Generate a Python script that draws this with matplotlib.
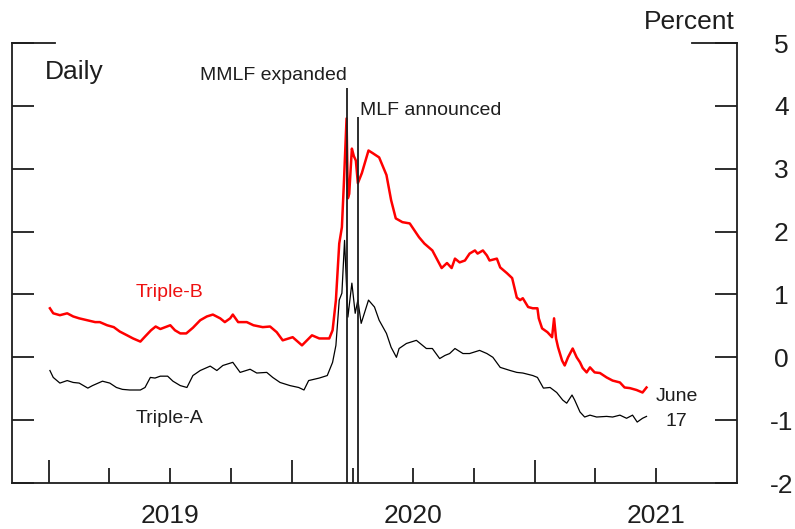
import matplotlib
matplotlib.use('Agg')
import matplotlib.pyplot as plt
import pandas as pd

plt.rcParams['font.family'] = ['Liberation Sans', 'DejaVu Sans']

# spreads, percent
triple_b_dates = [
    '2019-01-02', '2019-01-07', '2019-01-17', '2019-01-28', '2019-02-06', '2019-02-15',
    '2019-02-27', '2019-03-11', '2019-03-18', '2019-03-29', '2019-04-08', '2019-04-17',
    '2019-04-28', '2019-05-07', '2019-05-18', '2019-05-25', '2019-06-03', '2019-06-10',
    '2019-06-17', '2019-06-27', '2019-07-02', '2019-07-09', '2019-07-17', '2019-07-26',
    '2019-08-05', '2019-08-16', '2019-08-26', '2019-09-04', '2019-09-15', '2019-09-22',
    '2019-09-30', '2019-10-04', '2019-10-12', '2019-10-25', '2019-11-04', '2019-11-18',
    '2019-11-29', '2019-12-09', '2019-12-18', '2020-01-02', '2020-01-16', '2020-01-31',
    '2020-02-11', '2020-02-26', '2020-03-02', '2020-03-07', '2020-03-12', '2020-03-16',
    '2020-03-19', '2020-03-23', '2020-03-25', '2020-03-27', '2020-03-31', '2020-04-03',
    '2020-04-06', '2020-04-09', '2020-04-15', '2020-04-25', '2020-05-01', '2020-05-11',
    '2020-05-22', '2020-05-29', '2020-06-05', '2020-06-15', '2020-06-26', '2020-07-10',
    '2020-07-18', '2020-07-30', '2020-08-07', '2020-08-13', '2020-08-21', '2020-08-28',
    '2020-09-02', '2020-09-09', '2020-09-17', '2020-09-24', '2020-10-02', '2020-10-06',
    '2020-10-14', '2020-10-20', '2020-10-24', '2020-11-04', '2020-11-09', '2020-11-19',
    '2020-11-27', '2020-12-04', '2020-12-09', '2020-12-13', '2020-12-21', '2020-12-28',
    '2021-01-04', '2021-01-06', '2021-01-11', '2021-01-19', '2021-01-26', '2021-01-29',
    '2021-02-01', '2021-02-04', '2021-02-10', '2021-02-14', '2021-02-19', '2021-02-26',
    '2021-03-04', '2021-03-09', '2021-03-13', '2021-03-19', '2021-03-24', '2021-03-31',
    '2021-04-08', '2021-04-18', '2021-04-27', '2021-05-08', '2021-05-15', '2021-05-23',
    '2021-06-02', '2021-06-11', '2021-06-17',
]
triple_b_values = [
    0.78, 0.70, 0.67, 0.70, 0.65, 0.62,
    0.59, 0.56, 0.56, 0.51, 0.48, 0.41,
    0.35, 0.30, 0.25, 0.33, 0.43, 0.49,
    0.45, 0.49, 0.51, 0.43, 0.38, 0.38,
    0.47, 0.59, 0.65, 0.68, 0.62, 0.56,
    0.62, 0.68, 0.56, 0.56, 0.51, 0.48,
    0.49, 0.40, 0.27, 0.32, 0.19, 0.35,
    0.30, 0.30, 0.43, 0.91, 1.81, 2.07,
    2.77, 3.80, 2.53, 2.60, 3.32, 3.20,
    3.13, 2.77, 2.93, 3.29, 3.25, 3.18,
    2.90, 2.50, 2.21, 2.15, 2.13, 1.91,
    1.81, 1.70, 1.54, 1.42, 1.50, 1.42,
    1.57, 1.51, 1.54, 1.65, 1.70, 1.65,
    1.70, 1.62, 1.54, 1.57, 1.43, 1.34,
    1.26, 0.95, 0.91, 0.94, 0.80, 0.78,
    0.78, 0.62, 0.46, 0.40, 0.32, 0.62,
    0.30, 0.16, -0.05, -0.13, 0.00, 0.14,
    0.00, -0.08, -0.17, -0.24, -0.16, -0.24,
    -0.25, -0.32, -0.37, -0.40, -0.48, -0.49,
    -0.52, -0.56, -0.48,
]

triple_a_dates = [
    '2019-01-02', '2019-01-07', '2019-01-17', '2019-01-28', '2019-02-06', '2019-02-15',
    '2019-02-28', '2019-03-07', '2019-03-22', '2019-04-02', '2019-04-12', '2019-04-21',
    '2019-05-02', '2019-05-18', '2019-05-25', '2019-06-02', '2019-06-09', '2019-06-17',
    '2019-06-28', '2019-07-06', '2019-07-17', '2019-07-27', '2019-08-05', '2019-08-16',
    '2019-08-31', '2019-09-10', '2019-09-19', '2019-10-04', '2019-10-15', '2019-10-30',
    '2019-11-09', '2019-11-24', '2019-12-03', '2019-12-14', '2019-12-29', '2020-01-11',
    '2020-01-19', '2020-01-26', '2020-02-11', '2020-02-23', '2020-03-02', '2020-03-07',
    '2020-03-12', '2020-03-16', '2020-03-20', '2020-03-25', '2020-03-31', '2020-04-05',
    '2020-04-09', '2020-04-14', '2020-04-25', '2020-05-04', '2020-05-11', '2020-05-22',
    '2020-05-29', '2020-06-06', '2020-06-10', '2020-06-21', '2020-07-06', '2020-07-21',
    '2020-07-30', '2020-08-10', '2020-08-18', '2020-08-25', '2020-09-02', '2020-09-14',
    '2020-09-24', '2020-10-09', '2020-10-20', '2020-10-29', '2020-11-09', '2020-11-24',
    '2020-12-04', '2020-12-13', '2020-12-28', '2021-01-04', '2021-01-13', '2021-01-23',
    '2021-02-02', '2021-02-11', '2021-02-17', '2021-02-25', '2021-03-01', '2021-03-09',
    '2021-03-16', '2021-03-24', '2021-04-03', '2021-04-18', '2021-04-27', '2021-05-08',
    '2021-05-18', '2021-05-27', '2021-06-03', '2021-06-11', '2021-06-17',
]
triple_a_values = [
    -0.21, -0.32, -0.41, -0.37, -0.40, -0.41,
    -0.49, -0.45, -0.38, -0.41, -0.48, -0.51,
    -0.52, -0.52, -0.48, -0.32, -0.33, -0.30,
    -0.30, -0.38, -0.45, -0.48, -0.29, -0.21,
    -0.14, -0.21, -0.13, -0.08, -0.24, -0.19,
    -0.25, -0.24, -0.32, -0.40, -0.45, -0.48,
    -0.52, -0.37, -0.33, -0.29, -0.08, 0.19,
    0.91, 1.02, 1.86, 0.64, 1.18, 0.70,
    0.91, 0.54, 0.91, 0.80, 0.59, 0.38,
    0.16, 0.00, 0.14, 0.22, 0.27, 0.14,
    0.14, -0.02, 0.03, 0.06, 0.14, 0.06,
    0.06, 0.11, 0.06, 0.00, -0.16, -0.21,
    -0.24, -0.25, -0.29, -0.32, -0.49, -0.48,
    -0.56, -0.68, -0.73, -0.60, -0.68, -0.87,
    -0.95, -0.92, -0.95, -0.94, -0.95, -0.92,
    -0.97, -0.92, -1.03, -0.97, -0.94,
]

event_dates = ['2020-03-23', '2020-04-09']
event_labels = ['MMLF expanded', 'MLF announced']
event_tops = [4.28, 3.82]

year_labels = ['2019', '2020', '2021']
y_ticks = [-2, -1, 0, 1, 2, 3, 4, 5]

ink = '#1e1e1e'

fig = plt.figure(figsize=(7.95, 5.29), dpi=100)
ax = fig.add_axes([0.0151, 0.0869, 0.9119, 0.8318])

ax.plot(pd.to_datetime(triple_b_dates), triple_b_values, color='#ff0000', lw=1.8)
ax.plot(pd.to_datetime(triple_a_dates), triple_a_values, color='black', lw=0.9)

# event lines
ev = pd.to_datetime(event_dates)
ax.vlines(ev, -2, event_tops, color=ink, lw=1.3)
ax.text(ev[0], 4.41, event_labels[0], ha='right', va='baseline', fontsize=14, color=ink)
ax.annotate(event_labels[1], (ev[1], 3.85), xytext=(1.5, 0), textcoords='offset points',
            ha='left', va='baseline', fontsize=14, color=ink)

ax.set_xlim(pd.Timestamp('2018-11-06'), pd.Timestamp('2021-10-31'))
ax.set_ylim(-2, 5)

# ticks
years = pd.to_datetime([y + '-01-01' for y in year_labels])
quarters = [d for d in pd.date_range('2019-04-01', '2021-07-01', freq='QS') if d.month != 1]
ax.set_xticks(years)
ax.set_xticks(quarters, minor=True)
ax.set_xticklabels([])
ax.tick_params(axis='x', which='major', direction='in', length=16.5, width=1.3, color=ink)
ax.tick_params(axis='x', which='minor', direction='in', length=11, width=1.3, color=ink)

ax.set_yticks(y_ticks)
ax.set_yticklabels([str(v) for v in y_ticks])
ax.tick_params(axis='y', direction='in', left=True, right=True, labelleft=False,
               labelright=True, length=15.5, width=1.3, color=ink, pad=32,
               labelsize=19, labelcolor=ink)
plt.setp(ax.get_yticklabels(), ha='center')

xform = ax.get_xaxis_transform()
for y in year_labels:
    ax.text(pd.Timestamp(y + '-07-01'), -0.091, y, transform=xform, ha='center',
            va='baseline', fontsize=19, color=ink)

# frame: top only partly drawn
for s in ['left', 'right', 'bottom']:
    ax.spines[s].set_linewidth(1.3)
    ax.spines[s].set_color(ink)
ax.spines['top'].set_visible(False)
ax.plot([0, 0.059], [1, 1], transform=ax.transAxes, color=ink, lw=1.3, clip_on=False,
        solid_capstyle='projecting')
ax.plot([0.938, 1], [1, 1], transform=ax.transAxes, color=ink, lw=1.3, clip_on=False,
        solid_capstyle='projecting')

ax.text(0.0455, 0.918, 'Daily', transform=ax.transAxes, fontsize=19, color=ink, va='baseline')
ax.text(0.997, 1.032, 'Percent', transform=ax.transAxes, fontsize=19, color=ink,
        ha='right', va='baseline')
ax.text(0.170, 0.4227, 'Triple-B', transform=ax.transAxes, fontsize=14, color='#ee1111',
        va='baseline')
ax.text(0.170, 0.136, 'Triple-A', transform=ax.transAxes, fontsize=14, color=ink,
        va='baseline')
ax.text(0.917, 0.186, 'June', transform=ax.transAxes, fontsize=14, color=ink,
        ha='center', va='baseline')
ax.text(0.917, 0.1295, '17', transform=ax.transAxes, fontsize=14, color=ink,
        ha='center', va='baseline')

fig.savefig('out.png', dpi=100)
